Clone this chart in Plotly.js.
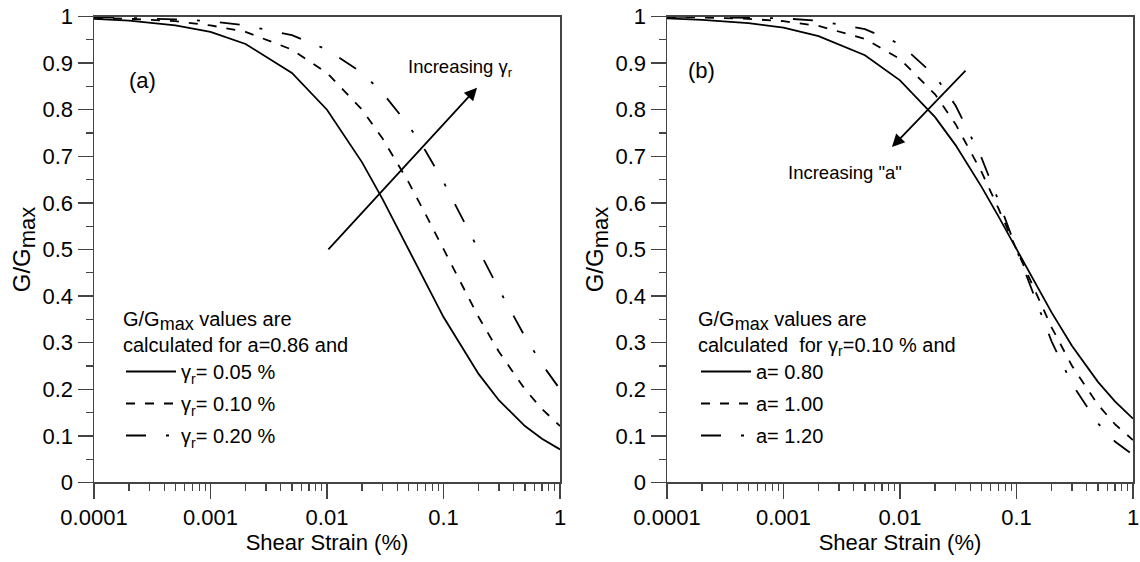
<!DOCTYPE html>
<html>
<head>
<meta charset="utf-8">
<script src="https://cdn.plot.ly/plotly-3.0.1.min.js"></script>
<style>html,body{margin:0;padding:0;background:#fff;}#chart{width:1140px;height:562px;}</style>
</head>
<body>
<div id="chart"></div>
<script>
// Shear strain (%) sample points
const strain = [0.0001, 0.0002, 0.0005, 0.001, 0.002, 0.005, 0.01, 0.02, 0.03, 0.05, 0.07, 0.1, 0.2, 0.3, 0.5, 0.7, 1];

// Panel (a): a = 0.86
const gA_r005 = [0.995, 0.991, 0.981, 0.967, 0.941, 0.879, 0.800, 0.687, 0.608, 0.500, 0.428, 0.355, 0.233, 0.176, 0.121, 0.094, 0.071];
const gA_r010 = [0.997, 0.995, 0.990, 0.981, 0.967, 0.929, 0.879, 0.800, 0.738, 0.645, 0.576, 0.500, 0.355, 0.280, 0.200, 0.158, 0.121];
const gA_r020 = [0.999, 0.997, 0.994, 0.990, 0.981, 0.960, 0.929, 0.879, 0.836, 0.767, 0.712, 0.645, 0.500, 0.414, 0.313, 0.254, 0.200];

// Panel (b): gamma_r = 0.10 %
const gB_a080 = [0.996, 0.993, 0.986, 0.976, 0.958, 0.917, 0.863, 0.784, 0.724, 0.635, 0.571, 0.500, 0.365, 0.293, 0.216, 0.174, 0.137];
const gB_a100 = [0.999, 0.998, 0.995, 0.990, 0.980, 0.952, 0.909, 0.833, 0.769, 0.667, 0.588, 0.500, 0.333, 0.250, 0.167, 0.125, 0.091];
const gB_a120 = [1.000, 0.999, 0.998, 0.996, 0.991, 0.973, 0.941, 0.873, 0.809, 0.697, 0.605, 0.500, 0.303, 0.211, 0.127, 0.088, 0.059];

const namesA = ['γ<sub>r</sub>= 0.05 %', 'γ<sub>r</sub>= 0.10 %', 'γ<sub>r</sub>= 0.20 %'];
const namesB = ['a= 0.80', 'a= 1.00', 'a= 1.20'];

const xTickVals = [0.0001, 0.001, 0.01, 0.1, 1];
const xTickText = ['0.0001', '0.001', '0.01', '0.1', '1'];

const FONT = 'Liberation Sans, Arial, sans-serif';
const AX = '#444';
const DASHES = ['solid', '9px,10px', '20px,20px,3px,20px'];
const GMAX = 'G/G<sub><span style="font-size:18px">max</span></sub>';

const minorX = [];
for (let d = -4; d < 0; d++) for (let k = 2; k <= 9; k++) minorX.push(k * Math.pow(10, d));

function mk(y, name, i, xa, ya, leg) {
  return {
    x: strain, y: y, name: name, type: 'scatter', mode: 'lines',
    xaxis: xa, yaxis: ya, legend: leg, legendgroup: leg + i,
    line: {color: '#000', width: 1.8, dash: DASHES[i]},
    hoverinfo: 'skip'
  };
}

const traces = [
  mk(gA_r005, namesA[0], 0, 'x', 'y', 'legend'),
  mk(gA_r010, namesA[1], 1, 'x', 'y', 'legend'),
  mk(gA_r020, namesA[2], 2, 'x', 'y', 'legend'),
  mk(gB_a080, namesB[0], 0, 'x2', 'y2', 'legend2'),
  mk(gB_a100, namesB[1], 1, 'x2', 'y2', 'legend2'),
  mk(gB_a120, namesB[2], 2, 'x2', 'y2', 'legend2')
];

function xax(domain, anchor) {
  return {
    domain: domain, anchor: anchor, type: 'log', range: [-4, 0],
    tickmode: 'array', tickvals: xTickVals, ticktext: xTickText,
    ticks: 'outside', ticklen: 15, tickwidth: 1.5, tickcolor: AX,
    showline: true, linecolor: AX, linewidth: 1.5, mirror: true,
    showgrid: false, zeroline: false,
    tickfont: {size: 22, family: FONT, color: '#000'},
    minor: {tickmode: 'array', tickvals: minorX, ticks: 'outside', ticklen: 7, tickwidth: 1.2, tickcolor: AX, showgrid: false},
    title: {text: 'Shear Strain (%)', font: {size: 22, family: FONT, color: '#000'}, standoff: 4}
  };
}
function yax(anchor) {
  return {
    domain: [0.1415, 0.9706], anchor: anchor, range: [0, 1],
    tick0: 0, dtick: 0.1,
    ticks: 'outside', ticklen: 15, tickwidth: 1.5, tickcolor: AX,
    showline: true, linecolor: AX, linewidth: 1.5, mirror: true,
    showgrid: false, zeroline: false,
    tickfont: {size: 22, family: FONT, color: '#000'},
    minor: {dtick: 0.05, ticks: 'outside', ticklen: 7, tickwidth: 1.2, tickcolor: AX, showgrid: false},
    title: {text: 'G/G<sub><span style="font-size:22px">max</span></sub>', font: {size: 24, family: FONT, color: '#000'}, standoff: 5}
  };
}

function lg(x, title) {
  return {
    x: x, y: 1 - 300 / 562, xanchor: 'left', yanchor: 'top',
    bgcolor: 'rgba(0,0,0,0)', borderwidth: 0,
    font: {size: 20, family: FONT, color: '#000'},
    title: {text: title, font: {size: 20, family: FONT, color: '#000'}, side: 'top'},
    itemwidth: 50,
    tracegroupgap: 3, itemclick: false, itemdoubleclick: false
  };
}

const annFont = {size: 18.5, family: FONT, color: '#000'};
const layout = {
  width: 1140, height: 562,
  margin: {l: 0, r: 0, t: 0, b: 0},
  paper_bgcolor: '#fff', plot_bgcolor: '#fff',
  font: {family: FONT, color: '#000'},
  showlegend: true,
  xaxis: xax([94 / 1140, 560 / 1140], 'y'),
  yaxis: yax('x'),
  xaxis2: xax([667 / 1140, 1133 / 1140], 'y2'),
  yaxis2: yax('x2'),
  legend: lg(121 / 1140, GMAX + ' values are<br>calculated for a=0.86 and'),
  legend2: lg(696 / 1140, GMAX + ' values are<br>calculated  for γ<sub>r</sub>=0.10 % and'),
  annotations: [
    {xref: 'x', yref: 'y', x: -3.58, y: 0.862, text: '(a)', showarrow: false, font: {size: 22, family: FONT, color: '#000'}},
    {xref: 'x2', yref: 'y2', x: -3.70, y: 0.885, text: '(b)', showarrow: false, font: {size: 22, family: FONT, color: '#000'}},
    {xref: 'x', yref: 'y', x: -0.858, y: 0.8895, text: 'Increasing γ<sub>r</sub>', showarrow: false, font: annFont},
    {xref: 'x2', yref: 'y2', x: -2.472, y: 0.666, text: 'Increasing "a"', showarrow: false, font: annFont},
    {xref: 'x', yref: 'y', axref: 'x', ayref: 'y', x: -0.712, y: 0.847, ax: -2.0, ay: 0.497,
     text: '', showarrow: true, arrowhead: 2, arrowsize: 1.4, arrowwidth: 1.8, arrowcolor: '#000', standoff: 0},
    {xref: 'x2', yref: 'y2', axref: 'x2', ayref: 'y2', x: -2.069, y: 0.72, ax: -1.425, ay: 0.887,
     text: '', showarrow: true, arrowhead: 2, arrowsize: 1.4, arrowwidth: 1.8, arrowcolor: '#000', standoff: 0}
  ]
};

Plotly.newPlot('chart', traces, layout, {staticPlot: true, displayModeBar: false});
</script>
</body>
</html>
